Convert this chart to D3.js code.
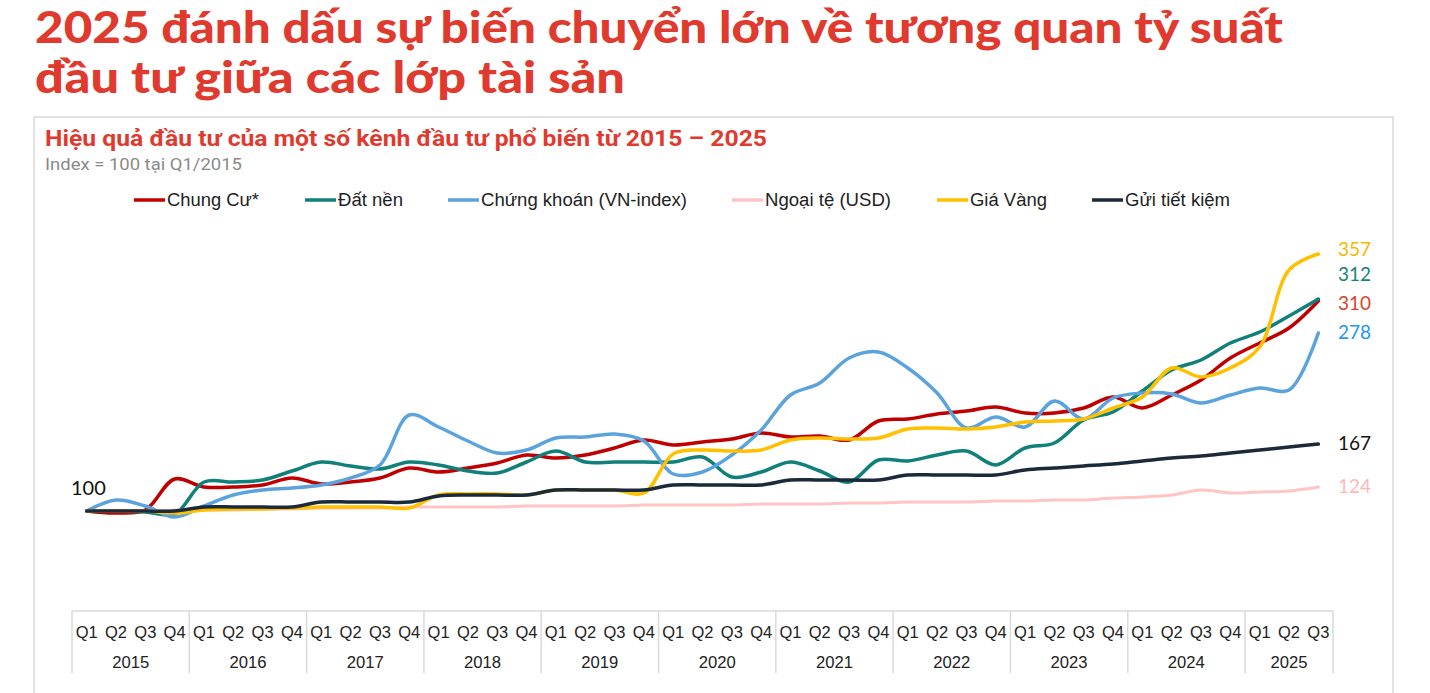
<!DOCTYPE html>
<html><head><meta charset="utf-8">
<script src="https://cdn.jsdelivr.net/npm/d3@7"></script>
<style>html,body{margin:0;padding:0;background:#fff;}svg{display:block;}</style>
</head><body>
<svg id="c" width="1430" height="693"></svg>
<script>
const titleLines = ["2025 đánh dấu sự biến chuyển lớn về tương quan tỷ suất", "đầu tư giữa các lớp tài sản"];
const subtitle = "Hiệu quả đầu tư của một số kênh đầu tư phổ biến từ 2015 – 2025";
const note = "Index = 100 tại Q1/2015";
const years = ["2015","2016","2017","2018","2019","2020","2021","2022","2023","2024","2025"];
const quartersPerYear = ["Q1","Q2","Q3","Q4"];
const seriesNames = ["Chung Cư*","Đất nền","Chứng khoán (VN-index)","Ngoại tệ (USD)","Giá Vàng","Gửi tiết kiệm"];
const chungCu = [100,98,101,132,124,124,126,133,127,129,133,143,139,143,148,156,153,156,163,171,166,169,172,178,174,175,171,190,192,197,200,204,198,198,203,214,203,216,231,253,268,283,310];
const datNen = [100,100,99,97,129,129,131,140,149,145,142,149,146,140,138,149,160,149,149,149,149,154,134,139,149,140,129,151,150,156,160,146,163,168,191,199,220,241,251,268,279,295,312];
const chungKhoan = [100,111,105,94,105,116,121,123,126,133,146,196,184,170,158,161,173,174,177,170,137,139,156,181,216,228,253,259,243,218,183,194,184,210,192,213,218,217,208,216,223,221,278];
const ngoaiTe = [100,100,100,101,101,101,102,102,103,103,103,104,104,104,104,105,105,105,105,106,106,106,106,107,107,107,108,108,109,109,109,110,110,111,111,113,114,116,121,118,119,120,124];
const giaVang = [100,100,100,98,101,102,102,103,104,104,104,103,116,117,117,116,121,121,121,118,157,161,160,161,171,173,172,173,182,183,182,184,189,190,192,203,214,243,234,243,264,341,357];
const guiTietKiem = [100,100,100,100,104,104,104,104,109,109,109,109,115,116,116,116,121,121,121,121,126,126,126,126,131,131,131,131,136,136,136,136,141,143,145,147,150,153,155,158,161,164,167];
const endLabels = ["310","312","278","124","357","167"];
const startLabel = "100";

const colors = ["#c00000","#10807a","#5ba3dc","#ffc4c4","#ffc000","#1b2a3a"];
const labelColors = ["#d9432a","#16837a","#2196f3","#ffb8b8","#f5b800","#111111"];
const allSeries = [chungCu, datNen, chungKhoan, ngoaiTe, giaVang, guiTietKiem];

const quarters = [];
years.forEach(y => quartersPerYear.forEach(q => { if (quarters.length < chungCu.length) quarters.push(y + "-" + q); }));

const svg = d3.select("#c");
const red = "#e03a2f";

// frame
svg.append("rect").attr("x",34).attr("y",117).attr("width",1359).attr("height",620)
  .attr("fill","none").attr("stroke","#d9d9d9").attr("stroke-width",1.5);

// title
titleLines.forEach((t,i) => {
  svg.append("text").attr("x",35).attr("y",43 + i*50).text(t)
    .attr("font-family","Lato, 'Open Sans', sans-serif").attr("font-weight",900)
    .attr("font-size",44).attr("fill",red)
    .attr("textLength", i===0 ? 1248 : 590).attr("lengthAdjust","spacingAndGlyphs");
});
svg.append("text").attr("x",45).attr("y",146).text(subtitle)
  .attr("font-family","Roboto, 'Liberation Sans', sans-serif").attr("font-weight",700)
  .attr("font-size",22).attr("fill",red).attr("textLength",722).attr("lengthAdjust","spacingAndGlyphs");
svg.append("text").attr("x",45).attr("y",170).text(note)
  .attr("font-family","Roboto, 'Liberation Sans', sans-serif")
  .attr("font-size",16).attr("fill","#8a8a8a").attr("textLength",197).attr("lengthAdjust","spacingAndGlyphs");

// legend
const legendX = [134,305,448,732,937,1092];
const legendW = [92,65,206,126,77,105];
seriesNames.forEach((n,i) => {
  const g = svg.append("g").attr("transform",`translate(${legendX[i]},200)`);
  g.append("line").attr("x1",0).attr("x2",31).attr("y1",0).attr("y2",0)
    .attr("stroke",colors[i]).attr("stroke-width",3.5);
  g.append("text").attr("x",33).attr("y",6).text(n)
    .attr("font-family","'Liberation Sans', Arial, sans-serif").attr("font-size",18).attr("fill","#222")
    .attr("textLength",legendW[i]).attr("lengthAdjust","spacingAndGlyphs");
});

// scales
const x = d3.scaleBand().domain(quarters).range([72, 1333]).padding(0);
const xc = q => x(q) + x.bandwidth()/2;
const y = d3.scaleLinear().domain([0, 400]).range([611, 211]);

// lines
const line = d3.line().x((d,i) => xc(quarters[i])).y(d => y(d)).curve(d3.curveCatmullRom.alpha(0.5));
allSeries.forEach((s,i) => {
  svg.append("path").datum(s).attr("d", line).attr("fill","none")
    .attr("stroke",colors[i]).attr("stroke-width", i===3 ? 3 : 3.5)
    .attr("stroke-linejoin","round").attr("stroke-linecap","round");
});

// end labels
allSeries.forEach((s,i) => {
  const last = s[s.length-1];
  let yy = y(last);
  if (i === 0) yy += 3;
  if (i === 1) yy -= 24;
  if (i === 4) yy -= 4;
  svg.append("text").attr("x",1338).attr("y",yy + 6).text(endLabels[i])
    .attr("font-family","Lato, 'Open Sans', sans-serif").attr("font-size",19)
    .attr("fill",labelColors[i]);
});
svg.append("text").attr("x",71).attr("y",y(chungCu[0]) - 16).text(startLabel)
  .attr("font-family","Lato, 'Open Sans', sans-serif").attr("font-size",20).attr("fill","#111");

// category table
const tableTop = 611, tableBottom = 673;
svg.append("line").attr("x1",72).attr("x2",1333).attr("y1",tableTop).attr("y2",tableTop)
  .attr("stroke","#d9d9d9").attr("stroke-width",1.5);
const yearStarts = years.map(yr => quarters.find(q => q.startsWith(yr)));
yearStarts.forEach(q => {
  svg.append("line").attr("x1",x(q)).attr("x2",x(q)).attr("y1",tableTop).attr("y2",tableBottom)
    .attr("stroke","#d9d9d9").attr("stroke-width",1.5);
});
svg.append("line").attr("x1",1333).attr("x2",1333).attr("y1",tableTop).attr("y2",tableBottom)
  .attr("stroke","#d9d9d9").attr("stroke-width",1.5);
quarters.forEach(q => {
  svg.append("text").attr("x",xc(q)).attr("y",638).attr("text-anchor","middle").text(q.split("-")[1])
    .attr("font-family","'Liberation Sans', Arial, sans-serif").attr("font-size",16).attr("fill","#222")
    .attr("textLength",22).attr("lengthAdjust","spacingAndGlyphs");
});
years.forEach(yr => {
  const qs = quarters.filter(q => q.startsWith(yr));
  const cx = (x(qs[0]) + x(qs[qs.length-1]) + x.bandwidth())/2;
  svg.append("text").attr("x",cx).attr("y",668).attr("text-anchor","middle").text(yr)
    .attr("font-family","'Liberation Sans', Arial, sans-serif").attr("font-size",16).attr("fill","#222")
    .attr("textLength",37).attr("lengthAdjust","spacingAndGlyphs");
});
</script>
</body></html>
